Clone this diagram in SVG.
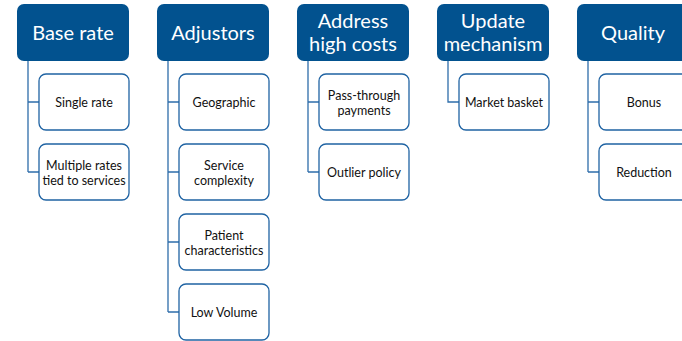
<svg xmlns="http://www.w3.org/2000/svg" width="682" height="341" viewBox="0 0 682 341">
<style>
.hdr rect{fill:#02528F;}
.hdr text{fill:#fff;font-family:Lato,"Open Sans",sans-serif;font-size:20px;text-anchor:middle;}
.ch rect{fill:#fff;stroke:#1F63A3;stroke-width:1.3;}
.ch text{fill:#111;font-family:Lato,"Open Sans",sans-serif;font-size:12.5px;text-anchor:middle;}
.con path{fill:none;stroke:#2E6DAA;stroke-width:1.3;}
</style>
<rect width="682" height="341" fill="#fff"/>
<g class="con">
<path d="M28 61V172M28 102H39M28 172H39"/>
<path d="M168 61V312M168 102H179M168 172H179M168 242H179M168 312H179"/>
<path d="M308 61V172M308 102H319M308 172H319"/>
<path d="M448 61V102H459"/>
<path d="M588 61V172M588 102H599M588 172H599"/>
</g>
<g id="base-rate" class="hdr"><rect x="17" y="4" width="112" height="57" rx="7"/><text x="73" y="40">Base rate</text></g>
<g id="adjustors" class="hdr"><rect x="157" y="4" width="112" height="57" rx="7"/><text x="213" y="40">Adjustors</text></g>
<g id="address" class="hdr"><rect x="297" y="4" width="112" height="57" rx="7"/><text x="353" y="28">Address</text><text x="353" y="51">high costs</text></g>
<g id="update" class="hdr"><rect x="437" y="4" width="112" height="57" rx="7"/><text x="493" y="28">Update</text><text x="493" y="51">mechanism</text></g>
<g id="quality" class="hdr"><rect x="577" y="4" width="112" height="57" rx="7"/><text x="633" y="40">Quality</text></g>

<g id="single-rate" class="ch"><rect x="39" y="74" width="90" height="56" rx="7"/><text x="84" y="107">Single rate</text></g>
<g id="multiple-rates" class="ch"><rect x="39" y="144" width="90" height="56" rx="7"/><text x="84" y="170">Multiple rates</text><text x="84" y="185">tied to services</text></g>
<g id="geographic" class="ch"><rect x="179" y="74" width="90" height="56" rx="7"/><text x="224" y="107">Geographic</text></g>
<g id="service-complexity" class="ch"><rect x="179" y="144" width="90" height="56" rx="7"/><text x="224" y="170">Service</text><text x="224" y="185">complexity</text></g>
<g id="patient" class="ch"><rect x="179" y="214" width="90" height="56" rx="7"/><text x="224" y="240">Patient</text><text x="224" y="255">characteristics</text></g>
<g id="low-volume" class="ch"><rect x="179" y="284" width="90" height="56" rx="7"/><text x="224" y="317">Low Volume</text></g>
<g id="pass-through" class="ch"><rect x="319" y="74" width="90" height="56" rx="7"/><text x="364" y="100">Pass-through</text><text x="364" y="115">payments</text></g>
<g id="outlier" class="ch"><rect x="319" y="144" width="90" height="56" rx="7"/><text x="364" y="177">Outlier policy</text></g>
<g id="market-basket" class="ch"><rect x="459" y="74" width="90" height="56" rx="7"/><text x="504" y="107">Market basket</text></g>
<g id="bonus" class="ch"><rect x="599" y="74" width="90" height="56" rx="7"/><text x="644" y="107">Bonus</text></g>
<g id="reduction" class="ch"><rect x="599" y="144" width="90" height="56" rx="7"/><text x="644" y="177">Reduction</text></g>
</svg>
